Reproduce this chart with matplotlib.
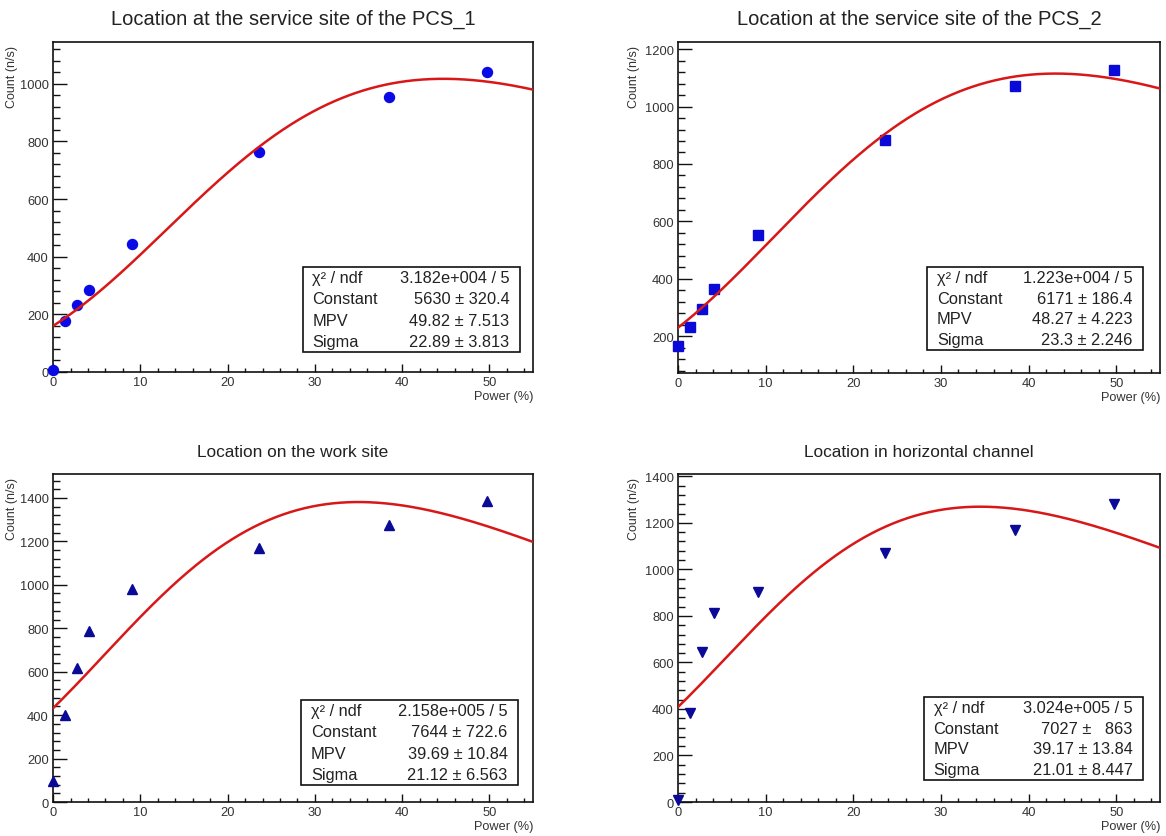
import numpy as np
import matplotlib
matplotlib.use('Agg')
import matplotlib.pyplot as plt
from matplotlib.patches import Rectangle
from matplotlib.ticker import MultipleLocator

plt.rcParams['font.family'] = ['Liberation Sans', 'DejaVu Sans']

# ---------------------------------------------------------------------------
# data
# ---------------------------------------------------------------------------
power = [0, 1.35, 2.75, 4.1, 9.1, 23.6, 38.5, 49.7]

count_pcs1 = [8, 178, 232, 283, 445, 762, 953, 1040]
count_pcs2 = [165, 231, 296, 366, 552, 884, 1070, 1128]
count_work = [95, 400, 615, 789, 980, 1169, 1277, 1385]
count_horz = [10, 382, 646, 813, 903, 1069, 1169, 1283]

titles = ['Location at the service site of the PCS_1',
          'Location at the service site of the PCS_2',
          'Location on the work site',
          'Location in horizontal channel']

# Landau fit parameters (Constant, MPV, Sigma) shown in the stat boxes
fit_const = [5630, 6171, 7644, 7027]
fit_mpv   = [49.82, 48.27, 39.69, 39.17]
fit_sigma = [22.89, 23.3, 21.12, 21.01]

stat_labels = [u'\u03c7\u00b2 / ndf', 'Constant', 'MPV', 'Sigma']
stat_values = [
    ['3.182e+004 / 5', u'5630 \u00b1 320.4', u'49.82 \u00b1 7.513', u'22.89 \u00b1 3.813'],
    ['1.223e+004 / 5', u'6171 \u00b1 186.4', u'48.27 \u00b1 4.223', u'23.3 \u00b1 2.246'],
    ['2.158e+005 / 5', u'7644 \u00b1 722.6', u'39.69 \u00b1 10.84', u'21.12 \u00b1 6.563'],
    ['3.024e+005 / 5', u'7027 \u00b1   863', u'39.17 \u00b1 13.84', u'21.01 \u00b1 8.447'],
]

# ---------------------------------------------------------------------------
# layout / style
# ---------------------------------------------------------------------------
rects = [(0.0455, 0.5544, 0.4117, 0.3943),
         (0.5815, 0.5532, 0.4134, 0.3955),
         (0.0455, 0.0406, 0.4117, 0.3919),
         (0.5815, 0.0406, 0.4134, 0.3919)]
ylims = [(0, 1145), (72, 1225), (0, 1510), (0, 1410)]
markers = [('o', 7.2, '#0a0ae6'), ('s', 6.6, '#0a0ad8'),
           ('^', 7.0, '#0a0a96'), ('v', 7.0, '#0a0a96')]
title_sizes = [14.5, 14.5, 12.4, 12.4]
ylab_x = [-0.086, -0.091, -0.086, -0.091]
boxes = [(0.52, 0.06, 0.453, 0.258), (0.517, 0.07, 0.448, 0.25),
         (0.517, 0.052, 0.452, 0.259), (0.51, 0.067, 0.455, 0.253)]

TXT = '#333333'


def landau(lam):
    # standard Landau density, phi(l) = 1/pi * int exp(-t ln t - l t) sin(pi t) dt
    t = np.linspace(1e-9, 40, 40001)
    f = np.exp(-t * np.log(t) - lam[:, None] * t) * np.sin(np.pi * t)
    return np.trapezoid(f, t, axis=1) / np.pi


fig = plt.figure(figsize=(11.66, 8.37), dpi=100)
series = [count_pcs1, count_pcs2, count_work, count_horz]

for i in range(4):
    ax = fig.add_axes(rects[i])
    m, ms, col = markers[i]
    ax.plot(power, series[i], ls='none', marker=m, ms=ms, color=col,
            zorder=3, clip_on=False)

    xf = np.linspace(0, 55, 400)
    yf = fit_const[i] * landau((xf - fit_mpv[i]) / fit_sigma[i])
    ax.plot(xf, yf, color='#d81818', lw=1.8, zorder=4)

    ax.set_xlim(0, 55)
    ax.set_ylim(*ylims[i])
    ax.xaxis.set_major_locator(MultipleLocator(10))
    ax.xaxis.set_minor_locator(MultipleLocator(2))
    ax.yaxis.set_major_locator(MultipleLocator(200))
    ax.yaxis.set_minor_locator(MultipleLocator(40))
    ax.tick_params(which='both', direction='in', top=False, right=False,
                   colors='#111111', labelcolor=TXT, labelsize=9.3, width=1.0)
    ax.tick_params(axis='x', which='major', length=6, pad=3)
    ax.tick_params(axis='x', which='minor', length=3)
    ax.tick_params(axis='y', which='major', length=10, pad=3)
    ax.tick_params(axis='y', which='minor', length=5)
    for sp in ax.spines.values():
        sp.set_linewidth(1.2)
        sp.set_edgecolor('#111111')

    ax.set_title(titles[i], fontsize=title_sizes[i], color='#222222', pad=13)
    ax.text(ylab_x[i], 0.99, 'Count (n/s)', transform=ax.transAxes,
            rotation=90, ha='center', va='top', fontsize=9.0, color=TXT)
    ax.text(1.0, -0.073, 'Power (%)', transform=ax.transAxes,
            ha='right', va='center', fontsize=9.2, color=TXT)

    # stat box
    bx, by, bw, bh = boxes[i]
    ax.add_patch(Rectangle((bx, by), bw, bh, transform=ax.transAxes,
                           facecolor='white', edgecolor='#111111', lw=1.2,
                           zorder=5))
    for r in range(4):
        yy = by + bh * (1 - (r + 0.5) / 4)
        ax.text(bx + 0.02, yy, stat_labels[r], transform=ax.transAxes,
                ha='left', va='center', fontsize=11.8, color='#222222', zorder=6)
        ax.text(bx + bw - 0.022, yy, stat_values[i][r], transform=ax.transAxes,
                ha='right', va='center', fontsize=11.8, color='#222222', zorder=6)

fig.savefig('out.png', dpi=100, facecolor='white')
